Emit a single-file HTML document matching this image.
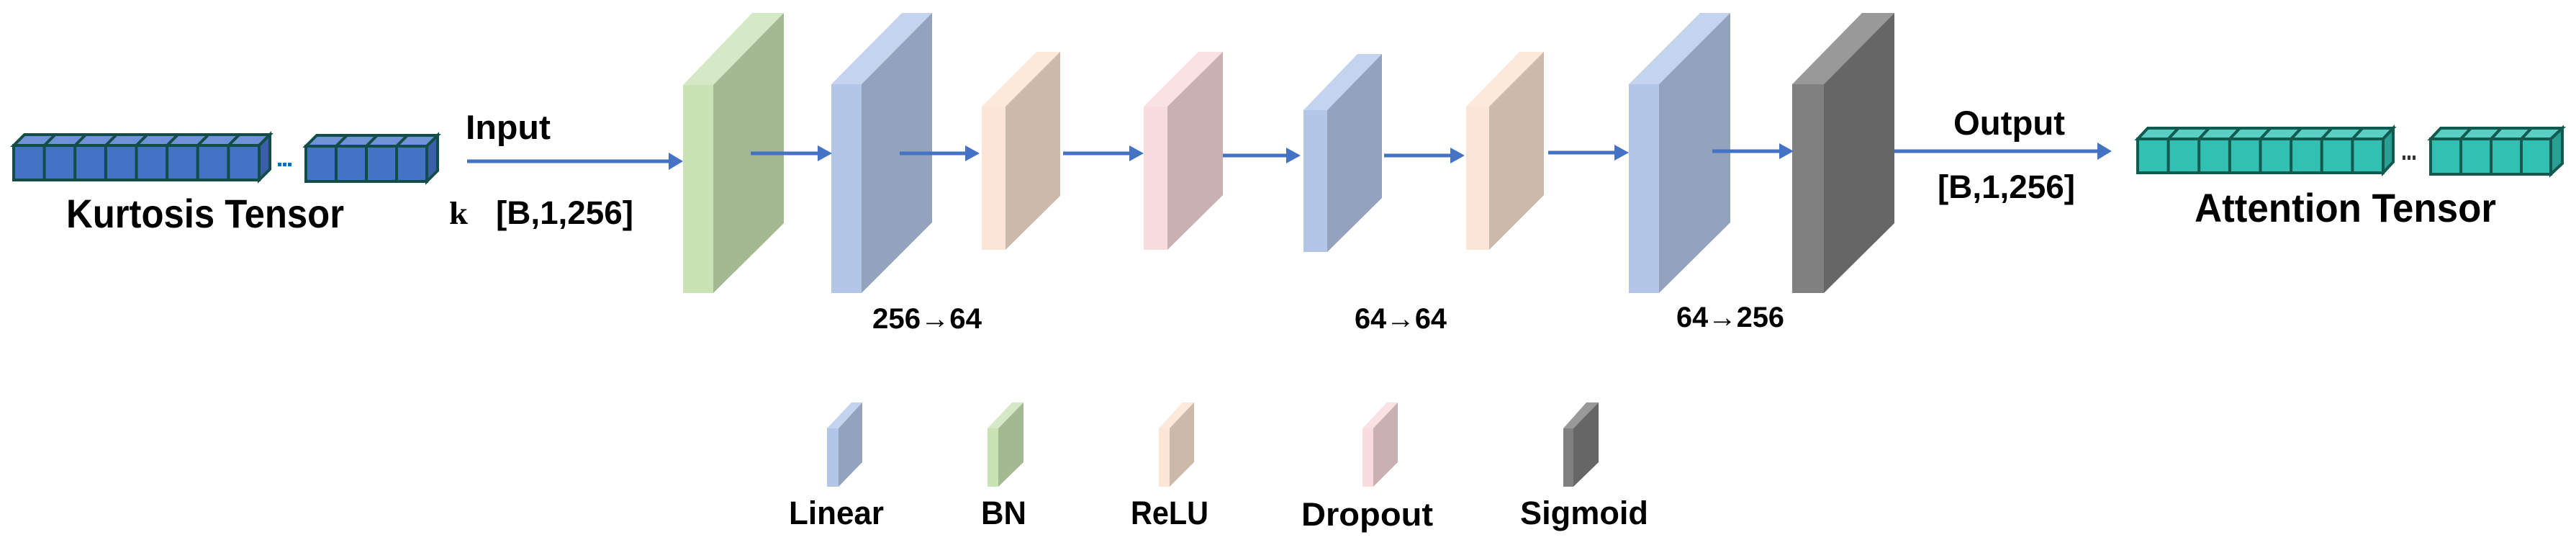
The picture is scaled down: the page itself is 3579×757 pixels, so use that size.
<!DOCTYPE html>
<html><head><meta charset="utf-8"><style>html,body{margin:0;padding:0;background:#fff}svg{display:block}</style></head>
<body>
<svg width="3579" height="757" viewBox="0 0 3579 757" xmlns="http://www.w3.org/2000/svg">
<g font-family="Liberation Sans, sans-serif" font-weight="bold" fill="#000">
<!-- Kurtosis tensor -->
<g stroke="#134d4a" stroke-width="4" stroke-linejoin="miter">
 <polygon points="19,202 34,187 375,187 360,202" fill="#6f93d6"/>
 <polygon points="360,202 375,187 375,235 360,250" fill="#3a5fa8"/>
 <rect x="19" y="202" width="341" height="48" fill="#4472c4"/>
 <path d="M61.6,202v48M104.2,202v48M146.9,202v48M189.5,202v48M232.1,202v48M274.7,202v48M317.4,202v48 M61.6,202l15,-15M104.2,202l15,-15M146.9,202l15,-15M189.5,202l15,-15M232.1,202l15,-15M274.7,202l15,-15M317.4,202l15,-15" fill="none"/>
 <polygon points="425,203 440,188 608,188 593,203" fill="#6f93d6"/>
 <polygon points="593,203 608,188 608,237 593,252" fill="#3a5fa8"/>
 <rect x="425" y="203" width="168" height="49" fill="#4472c4"/>
 <path d="M467,203v49M509,203v49M551,203v49M467,203l15,-15M509,203l15,-15M551,203l15,-15" fill="none"/>
</g>
<g fill="#0070c0"><rect x="386" y="226" width="5" height="5"/><rect x="393" y="226" width="5" height="5"/><rect x="400" y="226" width="5" height="5"/></g>
<text x="92" y="316" font-size="56" textLength="386" lengthAdjust="spacingAndGlyphs">Kurtosis Tensor</text>
<text x="647" y="193" font-size="47" textLength="118" lengthAdjust="spacingAndGlyphs">Input</text>
<text x="624" y="311" font-size="44" font-family="Liberation Serif, serif" textLength="26" lengthAdjust="spacingAndGlyphs">k</text>
<text x="689" y="311" font-size="45" textLength="191" lengthAdjust="spacingAndGlyphs">[B,1,256]</text>

<!-- slabs -->
<polygon points="949,118 1045,18 1089,18 991,118" fill="#d5e9c6"/>
<polygon points="991,118 1089,18 1089,310 991,407" fill="#a3b992"/>
<rect x="949" y="118" width="42" height="289" fill="#c9e3b5"/>
<polygon points="1155,117 1253,18 1295,18 1197,117" fill="#c5d4ee"/>
<polygon points="1197,117 1295,18 1295,309 1197,407" fill="#94a3bd"/>
<rect x="1155" y="117" width="42" height="290" fill="#b4c6e7"/>
<polygon points="1364,148 1440,72 1473,72 1397,148" fill="#fce9da"/>
<polygon points="1397,148 1473,72 1473,272 1397,347" fill="#cbb9aa"/>
<rect x="1364" y="148" width="33" height="199" fill="#fbe5d6"/>
<polygon points="1589,148 1665,72 1699,72 1622,148" fill="#fae1e4"/>
<polygon points="1622,148 1699,72 1699,271 1622,347" fill="#c9b0b3"/>
<rect x="1589" y="148" width="33" height="199" fill="#f8dce0"/>
<polygon points="1811,153 1886,75 1920,75 1844,153" fill="#c5d4ee"/>
<polygon points="1844,153 1920,75 1920,275 1844,350" fill="#94a3bd"/>
<rect x="1811" y="153" width="33" height="197" fill="#b4c6e7"/>
<polygon points="2037,148 2111,72 2145,72 2069,148" fill="#fce9da"/>
<polygon points="2069,148 2145,72 2145,271 2069,347" fill="#cbb9aa"/>
<rect x="2037" y="148" width="32" height="199" fill="#fbe5d6"/>
<polygon points="2263,117 2362,18 2404,18 2305,117" fill="#c5d4ee"/>
<polygon points="2305,117 2404,18 2404,309 2305,407" fill="#94a3bd"/>
<rect x="2263" y="117" width="42" height="290" fill="#b4c6e7"/>
<polygon points="2490,117 2587,18 2632,18 2534,117" fill="#999999"/>
<polygon points="2534,117 2632,18 2632,310 2534,407" fill="#666666"/>
<rect x="2490" y="117" width="44" height="290" fill="#808080"/>

<!-- arrows -->
<g stroke="#4472c4" stroke-width="5">
 <line x1="649" y1="224" x2="932" y2="224"/>
 <line x1="1043" y1="213" x2="1140" y2="213"/>
 <line x1="1250" y1="213" x2="1345" y2="213"/>
 <line x1="1477" y1="213" x2="1573" y2="213"/>
 <line x1="1699" y1="216" x2="1791" y2="216"/>
 <line x1="1923" y1="216" x2="2019" y2="216"/>
 <line x1="2151" y1="212" x2="2247" y2="212"/>
 <line x1="2379" y1="210" x2="2476" y2="210"/>
 <line x1="2632" y1="210" x2="2918" y2="210"/>
</g>
<g fill="#4472c4">
 <polygon points="929,212 949,224 929,236"/>
 <polygon points="1136,202 1156,213 1136,224"/>
 <polygon points="1341,202 1361,213 1341,224"/>
 <polygon points="1569,202 1589,213 1569,224"/>
 <polygon points="1787,205 1807,216 1787,227"/>
 <polygon points="2015,205 2035,216 2015,227"/>
 <polygon points="2243,201 2263,212 2243,223"/>
 <polygon points="2472,199 2492,210 2472,221"/>
 <polygon points="2914,198 2934,210 2914,222"/>
</g>

<text x="1212" y="456" font-size="40" textLength="152" lengthAdjust="spacingAndGlyphs">256→64</text>
<text x="1882" y="456" font-size="40" textLength="128" lengthAdjust="spacingAndGlyphs">64→64</text>
<text x="2329" y="454" font-size="40" textLength="150" lengthAdjust="spacingAndGlyphs">64→256</text>

<text x="2714" y="187" font-size="47" textLength="155" lengthAdjust="spacingAndGlyphs">Output</text>
<text x="2692" y="275" font-size="45" textLength="191" lengthAdjust="spacingAndGlyphs">[B,1,256]</text>

<!-- Attention tensor -->
<g stroke="#125a50" stroke-width="4">
 <polygon points="2970,193 2984,178 3325,178 3311,193" fill="#5ccfc4"/>
 <polygon points="3311,193 3325,178 3325,225 3311,240" fill="#28a094"/>
 <rect x="2970" y="193" width="341" height="47" fill="#31c0b2"/>
 <path d="M3012.6,193v47M3055.2,193v47M3097.9,193v47M3140.5,193v47M3183.1,193v47M3225.7,193v47M3268.4,193v47 M3012.6,193l14,-15M3055.2,193l14,-15M3097.9,193l14,-15M3140.5,193l14,-15M3183.1,193l14,-15M3225.7,193l14,-15M3268.4,193l14,-15" fill="none"/>
 <polygon points="3377,193 3391,178 3560,178 3544,193" fill="#5ccfc4"/>
 <polygon points="3544,193 3560,178 3560,227 3544,242" fill="#28a094"/>
 <rect x="3377" y="193" width="167" height="49" fill="#31c0b2"/>
 <path d="M3419,193v49M3461,193v49M3503,193v49M3419,193l14,-15M3461,193l14,-15M3503,193l14,-15" fill="none"/>
</g>
<g fill="#333"><rect x="3338" y="216" width="4" height="6"/><rect x="3345" y="216" width="4" height="6"/><rect x="3352" y="216" width="4" height="6"/></g>
<text x="3049" y="308" font-size="56" textLength="419" lengthAdjust="spacingAndGlyphs">Attention Tensor</text>

<!-- legend -->
<polygon points="1149,595 1183,559 1198,559 1165,595" fill="#c5d4ee"/>
<polygon points="1165,595 1198,559 1198,642 1165,676" fill="#94a3bd"/>
<rect x="1149" y="595" width="16" height="81" fill="#b4c6e7"/>
<polygon points="1372,595 1406,559 1422,559 1387,595" fill="#d5e9c6"/>
<polygon points="1387,595 1422,559 1422,642 1387,676" fill="#a3b992"/>
<rect x="1372" y="595" width="15" height="81" fill="#c9e3b5"/>
<polygon points="1610,595 1643,559 1659,559 1625,595" fill="#fce9da"/>
<polygon points="1625,595 1659,559 1659,642 1625,676" fill="#cbb9aa"/>
<rect x="1610" y="595" width="15" height="81" fill="#fbe5d6"/>
<polygon points="1893,595 1927,559 1942,559 1908,595" fill="#fae1e4"/>
<polygon points="1908,595 1942,559 1942,642 1908,676" fill="#c9b0b3"/>
<rect x="1893" y="595" width="15" height="81" fill="#f8dce0"/>
<polygon points="2172,595 2204,559 2221,559 2186,595" fill="#999999"/>
<polygon points="2186,595 2221,559 2221,642 2186,676" fill="#666666"/>
<rect x="2172" y="595" width="14" height="81" fill="#808080"/>

<text x="1096" y="728" font-size="45" textLength="132" lengthAdjust="spacingAndGlyphs">Linear</text>
<text x="1363" y="728" font-size="45" textLength="63" lengthAdjust="spacingAndGlyphs">BN</text>
<text x="1571" y="728" font-size="45" textLength="108" lengthAdjust="spacingAndGlyphs">ReLU</text>
<text x="1808" y="730" font-size="45" textLength="183" lengthAdjust="spacingAndGlyphs">Dropout</text>
<text x="2112" y="728" font-size="45" textLength="178" lengthAdjust="spacingAndGlyphs">Sigmoid</text>
</g>
</svg>
</body></html>
